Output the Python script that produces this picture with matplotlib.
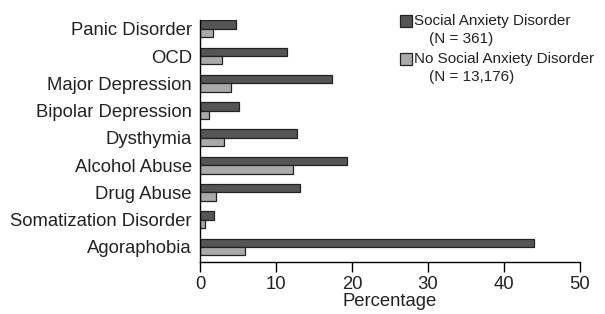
import numpy as np
import matplotlib.pyplot as plt
from matplotlib.patches import Rectangle

plt.rcParams['font.family'] = ['Liberation Sans', 'DejaVu Sans']

# data (top to bottom as shown)
categories = ['Panic Disorder', 'OCD', 'Major Depression', 'Bipolar Depression',
              'Dysthymia', 'Alcohol Abuse', 'Drug Abuse', 'Somatization Disorder',
              'Agoraphobia']
social = [4.7, 11.4, 17.4, 5.1, 12.7, 19.3, 13.2, 1.8, 43.9]
no_social = [1.7, 2.9, 4.1, 1.2, 3.2, 12.2, 2.1, 0.6, 5.9]
series_names = ['Social Anxiety Disorder', 'No Social Anxiety Disorder']
series_n = ['(N = 361)', '(N = 13,176)']
xticks = [0, 10, 20, 30, 40, 50]
colors = ['#555555', '#aaaaaa']

W, H = 605, 314
fig = plt.figure(figsize=(W / 100, H / 100), dpi=100)
ax = fig.add_axes([200 / W, 1 - 262 / H, 380 / W, 242 / H])

y = np.arange(len(categories))[::-1]
h = 0.31
ax.barh(y + h / 2, social, height=h, color=colors[0], edgecolor='#222222', linewidth=0.9)
ax.barh(y - h / 2, no_social, height=h, color=colors[1], edgecolor='#222222', linewidth=0.9)

ax.set_yticks(y)
ax.set_yticklabels(categories, fontsize=13.3, color='#222222')
ax.tick_params(axis='y', length=0, pad=5.8)
ax.set_xticks(xticks)
ax.tick_params(axis='x', labelsize=13.3, labelcolor='#222222', length=7, width=1,
               direction='out', pad=3)
ax.set_xlim(0, 50)
ax.set_ylim(-0.55, 8.32)
ax.set_xlabel('Percentage', fontsize=13.3, color='#222222', labelpad=0)

for s in ['top', 'right']:
    ax.spines[s].set_visible(False)
for s in ['left', 'bottom']:
    ax.spines[s].set_linewidth(1)

# legend drawn by hand (handle beside first line, N indented on second)
for i, (name, n) in enumerate(zip(series_names, series_n)):
    yc = 20.5 + i * 38
    fig.patches.append(Rectangle(((399.5) / W, 1 - (yc + 6) / H), 12 / W, 12 / H,
                                 transform=fig.transFigure, facecolor=colors[i],
                                 edgecolor='#222222', linewidth=0.9))
    fig.text(414 / W, 1 - yc / H, name, fontsize=11, va='center', ha='left', color='#222222')
    fig.text(429 / W, 1 - (yc + 19) / H, n, fontsize=11, va='center', ha='left', color='#222222')

plt.savefig('out.png', dpi=100)
